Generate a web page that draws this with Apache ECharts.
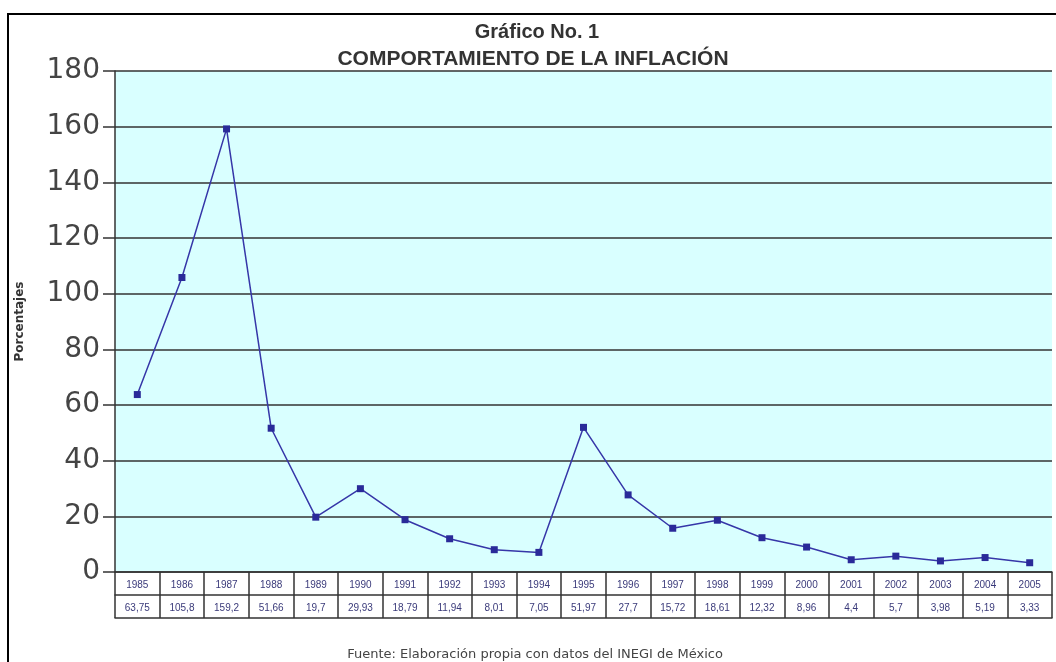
<!DOCTYPE html>
<html>
<head>
<meta charset="utf-8">
<script src="https://cdn.jsdelivr.net/npm/echarts@6/dist/echarts.min.js"></script>
<style>
  html, body { margin: 0; padding: 0; background: #fff; }
  #chart { width: 1056px; height: 662px; }
</style>
</head>
<body>
<div id="chart"></div>
<script>
// datos del INEGI
const years = ['1985', '1986', '1987', '1988', '1989', '1990', '1991', '1992', '1993', '1994', '1995',
  '1996', '1997', '1998', '1999', '2000', '2001', '2002', '2003', '2004', '2005'];
const inflacion = [63.75, 105.8, 159.2, 51.66, 19.7, 29.93, 18.79, 11.94, 8.01, 7.05, 51.97,
  27.7, 15.72, 18.61, 12.32, 8.96, 4.4, 5.7, 3.98, 5.19, 3.33];
const yTicks = [0, 20, 40, 60, 80, 100, 120, 140, 160, 180];

const font = '"Liberation Sans", Arial, sans-serif';
const wide = '"DejaVu Sans", sans-serif';
const dark = '#333333';

const chart = echarts.init(document.getElementById('chart'));

// filas extra de la tabla (solo lineas horizontales)
function tableLine(offset) {
  return {
    type: 'category',
    data: years,
    position: 'bottom',
    offset: offset,
    axisLine: { show: true, lineStyle: { color: dark, width: 1.5 } },
    axisTick: { show: false },
    axisLabel: { show: false },
    splitLine: { show: false }
  };
}

chart.setOption({
  animation: false,
  backgroundColor: '#ffffff',
  textStyle: { fontFamily: font },
  title: [
    {
      text: 'Gráfico No. 1',
      left: 532, top: 17, textAlign: 'center',
      textStyle: { fontSize: 20, fontWeight: 'bold', color: '#333', fontFamily: font }
    },
    {
      text: 'COMPORTAMIENTO DE LA INFLACIÓN',
      left: 528, top: 44, textAlign: 'center',
      textStyle: { fontSize: 21, fontWeight: 'bold', color: '#333', fontFamily: font }
    },
    {
      text: 'Fuente: Elaboración propia con datos del INEGI de México',
      left: 530, top: 643, textAlign: 'center',
      textStyle: { fontSize: 13, fontWeight: 'normal', color: '#444', fontFamily: wide }
    }
  ],
  graphic: [
    {
      type: 'rect',
      shape: { x: 8, y: 14, width: 1100, height: 700 },
      style: { fill: null, stroke: '#000', lineWidth: 2 },
      silent: true
    }
  ],
  grid: {
    left: 115, right: 4, top: 71, bottom: 90,
    show: true, backgroundColor: '#d9ffff', borderWidth: 0
  },
  xAxis: [
    {
      type: 'category',
      data: years,
      boundaryGap: true,
      axisLine: { show: true, lineStyle: { color: dark, width: 1.5 } },
      axisTick: { show: true, interval: 0, length: 46, lineStyle: { color: dark, width: 1.5 } },
      axisLabel: {
        interval: 0,
        margin: 2,
        formatter: function (value, idx) {
          return '{y|' + value + '}\n{v|' + String(inflacion[idx]).replace('.', ',') + '}';
        },
        rich: {
          y: { fontSize: 10, lineHeight: 23, color: '#3a3a7a', fontFamily: font },
          v: { fontSize: 10, lineHeight: 23, color: '#3a3a7a', fontFamily: font }
        }
      },
      splitLine: { show: false }
    },
    tableLine(23),
    tableLine(46)
  ],
  yAxis: {
    type: 'value',
    min: yTicks[0],
    max: yTicks[yTicks.length - 1],
    interval: 20,
    name: 'Porcentajes',
    nameLocation: 'middle',
    nameRotate: 90,
    nameGap: 89,
    nameTextStyle: { fontSize: 12, fontWeight: 'bold', color: '#333', fontFamily: wide },
    axisLine: { show: true, lineStyle: { color: dark, width: 1.5 } },
    axisTick: { show: true, length: 12, lineStyle: { color: dark, width: 1.5 } },
    axisLabel: { margin: 15, fontSize: 28, color: '#444', fontFamily: wide },
    splitLine: { show: true, lineStyle: { color: dark, width: 1.5 } }
  },
  series: [
    {
      type: 'line',
      data: inflacion,
      symbol: 'rect',
      symbolSize: 7,
      lineStyle: { color: '#3636a8', width: 1.5 },
      itemStyle: { color: '#2a2a99' }
    }
  ]
});
</script>
</body>
</html>
